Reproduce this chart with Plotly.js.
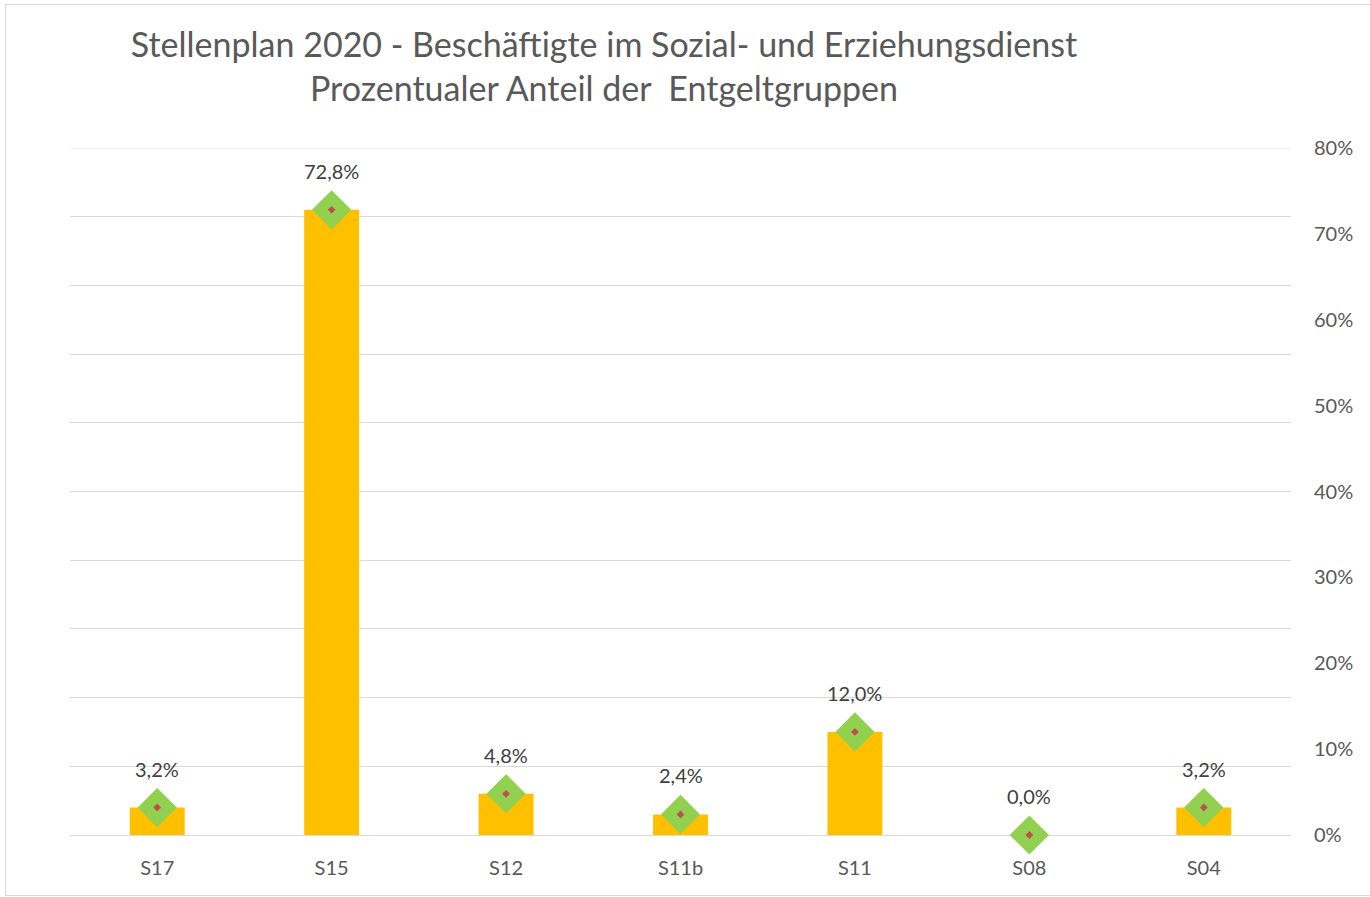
<!DOCTYPE html>
<html>
<head>
<meta charset="utf-8">
<script src="https://cdn.plot.ly/plotly-3.0.1.min.js"></script>
<style>
  html, body { margin: 0; padding: 0; background: #fff; }
  #wrap { position: relative; width: 1370px; height: 897px; overflow: hidden; }
  #chart { width: 1370px; height: 897px; }
  #frame { position: absolute; left: 5px; top: 4px; width: 1380px; height: 892px;
           border: 1px solid #d9d9d9; box-sizing: border-box; pointer-events: none; }
</style>
</head>
<body>
<div id="wrap">
  <div id="chart"></div>
  <div id="frame"></div>
</div>
<script>
const categories = ["S17", "S15", "S12", "S11b", "S11", "S08", "S04"];
const shares = [3.2, 72.8, 4.8, 2.4, 12.0, 0.0, 3.2];
const rightTicks = [0, 10, 20, 30, 40, 50, 60, 70, 80];
const axisMax = 80;

const fontFam = "Lato, 'Open Sans', sans-serif";

const bars = {
  type: "bar", x: categories, y: shares,
  marker: { color: "#FFC000" }, width: 0.315,
  hoverinfo: "x+y", showlegend: false
};
const diamonds = {
  type: "scatter", mode: "markers", x: categories, y: shares,
  marker: { symbol: "diamond", size: 28, color: "#92D050", line: { width: 2, color: "#92D050" } },
  cliponaxis: false, showlegend: false, hoverinfo: "skip"
};
const dots = {
  type: "scatter", mode: "markers", x: categories, y: shares,
  marker: { symbol: "diamond", size: 6, color: "#C0504D" },
  cliponaxis: false, showlegend: false, hoverinfo: "skip"
};
const axis2 = {
  type: "scatter", mode: "markers", x: categories, y: shares, yaxis: "y2",
  marker: { opacity: 0 }, showlegend: false, hoverinfo: "skip"
};

const annotations = categories.map((c, i) => ({
  x: c, y: shares[i], xref: "x", yref: "y",
  text: shares[i].toFixed(1).replace(".", ",") + "%",
  showarrow: false, yshift: 39,
  font: { family: fontFam, size: 20, color: "#404040" }
}));

const layout = {
  width: 1370, height: 897,
  margin: { l: 70, r: 79, t: 148, b: 62 },
  paper_bgcolor: "#ffffff", plot_bgcolor: "#ffffff",
  separators: ",.",
  title: {
    text: "Stellenplan 2020 - Beschäftigte im Sozial- und Erziehungsdienst<br>Prozentualer Anteil der  Entgeltgruppen",
    xref: "container", yref: "container", x: 604 / 1370, xanchor: "center",
    y: 1 - 57 / 897, yanchor: "top",
    font: { family: fontFam, size: 34, color: "#595959" }
  },
  xaxis: {
    type: "category", showgrid: false, zeroline: false, showline: false,
    ticks: "", tickfont: { family: fontFam, size: 20, color: "#595959" },
    ticklabelstandoff: 19
  },
  yaxis: {
    range: [0, axisMax], dtick: 8, tick0: 0, showgrid: true, gridcolor: "#d9d9d9", gridwidth: 1,
    zeroline: true, zerolinecolor: "#d9d9d9", zerolinewidth: 1,
    showticklabels: false, ticks: "", fixedrange: true
  },
  yaxis2: {
    overlaying: "y", side: "right", range: [0, axisMax], tickvals: rightTicks,
    ticktext: rightTicks.map(v => v + "%"),
    showgrid: false, zeroline: false, showline: false, ticks: "",
    tickfont: { family: fontFam, size: 20, color: "#595959" },
    ticklabelstandoff: 22
  },
  shapes: [{
    type: "line", xref: "paper", yref: "y", x0: 0, x1: 1, y0: axisMax, y1: axisMax,
    line: { color: "#d9d9d9", width: 1 }, layer: "below"
  }],
  annotations: annotations,
  showlegend: false
};

Plotly.newPlot("chart", [bars, axis2, diamonds, dots], layout, { displayModeBar: false, staticPlot: true });
</script>
</body>
</html>
